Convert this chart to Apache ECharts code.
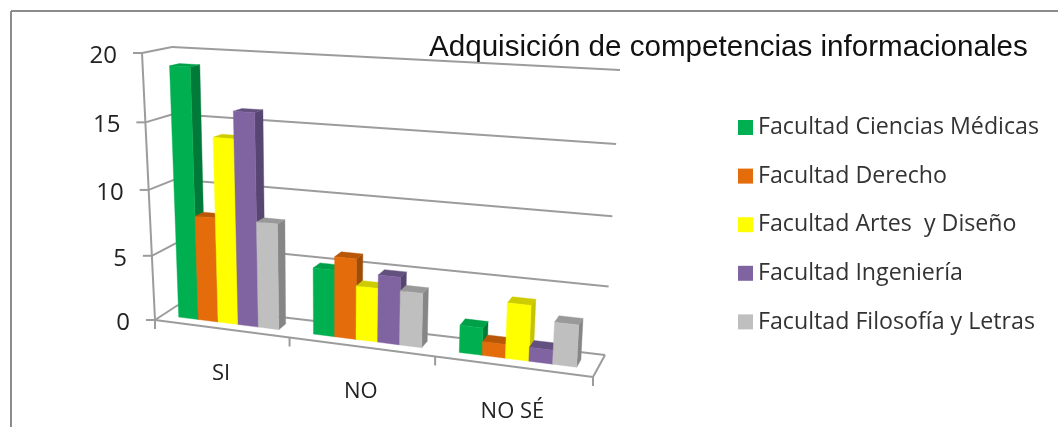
<!DOCTYPE html>
<html><head><meta charset="utf-8">
<style>html,body{margin:0;padding:0;background:#fff}#c{width:1058px;height:427px}</style>
<script src="https://cdn.jsdelivr.net/npm/echarts@6/dist/echarts.min.js"></script>
</head><body><div id="c"></div>
<script>
const categories = ['SI', 'NO', 'NO SÉ'];
const yTicks = [0, 5, 10, 15, 20];
const medicas = [19, 5, 2];
const derecho = [8, 6, 1];
const artes = [14, 4, 4];
const ingenieria = [16, 5, 1];
const filosofia = [8, 4, 3];
const names = ['Facultad Ciencias Médicas', 'Facultad Derecho', 'Facultad Artes  y Diseño', 'Facultad Ingeniería', 'Facultad Filosofía y Letras'];
const faces = [
  ['#00B050', '#00A048', '#007A38'],
  ['#E46C0A', '#B85708', '#A04C07'],
  ['#FFFF00', '#CCCC00', '#C4C400'],
  ['#8064A2', '#63507F', '#584672'],
  ['#BFBFBF', '#999999', '#868686']
];
const G = {left: 155, top: 53, width: 438, height: 267};
const C = {
  fbl: [155, 320], fbr: [593, 377], ftl: [142, 53], ftr: [610, 77],
  bbl: [178, 305], bbr: [605, 355], btl: [172, 47], btr: [620, 70]
};
const warp = (t, k) => k * t / (1 + (k - 1) * t);
const mix = (a, b, t) => [a[0] + (b[0] - a[0]) * t, a[1] + (b[1] - a[1]) * t];
function project(api, x, y, d) {
  const p = api.coord([x, y]);
  const u = warp((p[0] - G.left) / G.width, 0.887);
  const v = warp((G.top + G.height - p[1]) / G.height, 0.95);
  const front = mix(mix(C.fbl, C.fbr, u), mix(C.ftl, C.ftr, u), v);
  const back = mix(mix(C.bbl, C.bbr, u), mix(C.btl, C.btr, u), v);
  return mix(front, back, d);
}
const LINE = '#9c9c9c', TEXT = '#222';
const FONT = 'Open Sans';
const poly = (pts, fill) => ({type: 'polygon', shape: {points: pts}, style: {fill, stroke: fill, lineWidth: 0.4}});
const seg = (a, b, w) => ({type: 'line', shape: {x1: a[0], y1: a[1], x2: b[0], y2: b[1]}, style: {stroke: LINE, lineWidth: w || 2}});
const txt = (s, x, y, align, size) => ({type: 'text', style: {text: s, x, y, align, verticalAlign: 'middle', fill: TEXT, font: `${size}px "${FONT}"`}});

function renderFrame(params, api) {
  const ch = [];
  const xMax = categories.length, top = yTicks[yTicks.length - 1];
  yTicks.forEach(t => {
    const f = project(api, 0, t, 0), b = project(api, 0, t, 1), e = project(api, xMax, t, 1);
    ch.push(seg(f, b), seg(b, e));
    ch.push(seg(f, [f[0] - 9, f[1]]));
    ch.push(txt(String(t), f[0] - 25, f[1] + 3, 'right', 24));
  });
  ch.push(seg(project(api, 0, 0, 0), project(api, 0, top, 0)));
  ch.push(seg(project(api, 0, 0, 0), project(api, xMax, 0, 0)));
  ch.push(seg(project(api, xMax, 0, 0), project(api, xMax, 0, 1)));
  for (let i = 0; i <= xMax; i++) {
    const p = project(api, i, 0, 0);
    ch.push(seg(p, [p[0], p[1] + 9]));
  }
  categories.forEach((c, i) => {
    const p = project(api, i + 0.5, 0, 0);
    ch.push(txt(c, p[0], p[1] + 45, 'center', 22));
  });
  return {type: 'group', children: ch};
}
const D0 = 0.33, D1 = 0.67, START = 0.125, BW = 0.15;
function barRenderer(s) {
  return function (params, api) {
    const cat = api.value(0), val = api.value(1);
    const x0 = cat + START + BW * s, x1 = x0 + BW;
    const P = (x, y, d) => project(api, x, y, d);
    const col = faces[s];
    return {type: 'group', children: [
      poly([P(x1, 0, D0), P(x1, 0, D1), P(x1, val, D1), P(x1, val, D0)], col[2]),
      poly([P(x0, val, D0), P(x1, val, D0), P(x1, val, D1), P(x0, val, D1)], col[1]),
      poly([P(x0, 0, D0), P(x1, 0, D0), P(x1, val, D0), P(x0, val, D0)], col[0])
    ]};
  };
}
const seriesValues = [medicas, derecho, artes, ingenieria, filosofia];
const series = [{
  type: 'custom', name: 'frame', silent: true, renderItem: renderFrame, data: [[0, 0]],
  encode: {x: 0, y: 1}, z: 1
}];
seriesValues.forEach((vals, s) => series.push({
  type: 'custom', name: names[s], renderItem: barRenderer(s),
  itemStyle: {color: faces[s][0]},
  data: vals.map((v, i) => [i, v]), encode: {x: 0, y: 1}, z: 2 + s
}));
const chart = echarts.init(document.getElementById('c'), null, {renderer: 'canvas'});
chart.setOption({
  animation: false,
  backgroundColor: '#fff',
  title: {text: 'Adquisición de competencias informacionales', left: 424, top: 28,
    textStyle: {fontFamily: 'Liberation Sans', fontWeight: 'normal', fontSize: 29.6, color: '#111'}},
  legend: {orient: 'vertical', left: 738, top: 116, padding: 0, itemWidth: 15, itemHeight: 15, itemGap: 25.6,
    icon: 'rect', data: names, selectedMode: false,
    textStyle: {fontFamily: FONT, fontSize: 23.2, color: '#333'}},
  grid: {left: G.left, top: G.top, width: G.width, height: G.height},
  xAxis: {type: 'value', min: 0, max: categories.length, show: false},
  yAxis: {type: 'value', min: 0, max: 20, interval: 5, show: false},
  graphic: [
    {type: 'line', shape: {x1: 11, y1: 11, x2: 1058, y2: 11}, style: {stroke: '#8c8c8c', lineWidth: 2}},
    {type: 'line', shape: {x1: 11, y1: 11, x2: 11, y2: 427}, style: {stroke: '#8c8c8c', lineWidth: 2}}
  ],
  series
});
</script></body></html>
